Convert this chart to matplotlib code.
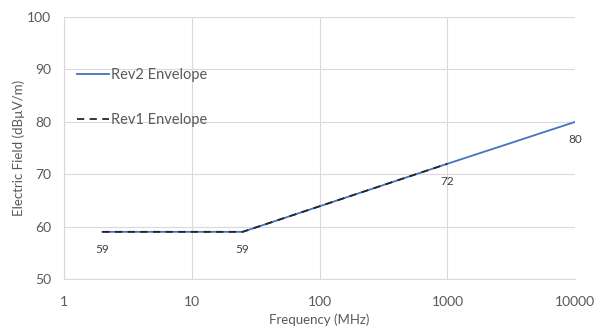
import matplotlib
matplotlib.use("Agg")
import matplotlib.pyplot as plt

# frequency (MHz) / field (dBuV/m)
rev2_freq = [2, 25, 1000, 10000]
rev2_field = [59, 59, 72, 80]
rev1_freq = [2, 25, 1000]
rev1_field = [59, 59, 72]
x_ticks = [1, 10, 100, 1000, 10000]
y_ticks = [50, 60, 70, 80, 90, 100]

plt.rcParams['font.family'] = ['Lato', 'DejaVu Sans']
grey = '#595959'

fig = plt.figure(figsize=(6.03, 3.29), dpi=100)
ax = fig.add_axes([0.106, 0.152, 0.848, 0.796])

ax.plot(rev2_freq, rev2_field, color='#4472C4', lw=1.3, label='Rev2 Envelope', zorder=3)
ax.plot(rev1_freq, rev1_field, color='#262626', lw=1.3, ls=(0, (4, 3)),
        label='Rev1 Envelope', zorder=4)

for f, v in zip(rev2_freq, rev2_field):
    ax.annotate(str(v), (f, v), xytext=(0, -12.5), textcoords='offset points',
                ha='center', va='center', fontsize=8.5, color='#404040')

ax.set_xscale('log')
ax.set_xlim(1, 10000)
ax.set_ylim(50, 100)
ax.set_xticks(x_ticks)
ax.set_xticklabels([str(t) for t in x_ticks])
ax.set_yticks(y_ticks)
ax.minorticks_off()
ax.tick_params(length=0, labelsize=10, colors=grey)
ax.tick_params(axis='x', pad=12)
ax.tick_params(axis='y', pad=9)
ax.grid(True, color='#d9d9d9', lw=0.8)
ax.set_axisbelow(True)
for s in ['top', 'right']:
    ax.spines[s].set_visible(False)
for s in ['left', 'bottom']:
    ax.spines[s].set_color('#d9d9d9')
    ax.spines[s].set_linewidth(0.8)

ax.set_xlabel('Frequency (MHz)', fontsize=9.5, color=grey, labelpad=4)
ax.set_ylabel('Electric Field (dBµV/m)', fontsize=9.5, color=grey, labelpad=2)

ax.legend(loc='upper left', bbox_to_anchor=(0.0, 0.855), frameon=False,
          fontsize=10.5, labelcolor=grey, handlelength=2.2, handletextpad=0.15,
          labelspacing=2.1)

fig.savefig('out.png', dpi=100)
